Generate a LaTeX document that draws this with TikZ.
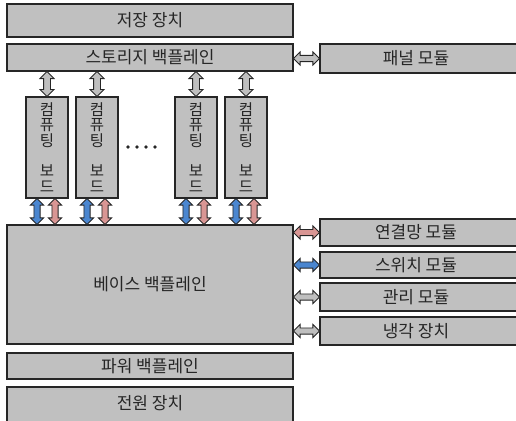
\documentclass[tikz,border=0pt]{standalone}
\usepackage{fontspec}
\setmainfont{Noto Sans CJK KR}
\usetikzlibrary{shapes.arrows}
\definecolor{boxgray}{HTML}{C0C0C0}
\definecolor{edgec}{HTML}{262626}
\definecolor{pinkc}{HTML}{D99694}
\definecolor{bluec}{HTML}{4A86D0}
\definecolor{arrgray}{HTML}{BFBFBF}
\begin{document}
\begin{tikzpicture}[x=1pt,y=-1pt,
  box/.style={draw=edgec, line width=1.1pt, fill=boxgray, inner sep=0pt, outer sep=0pt,
    anchor=north west, text=edgec, font=\fontsize{17}{18}\selectfont},
  board/.style={box, minimum width=42pt, minimum height=101pt, align=center,
    font=\fontsize{15.5}{15.5}\selectfont},
  darrow/.style={double arrow, draw=edgec, line width=0.9pt, inner xsep=0pt, inner ysep=2.6pt,
    outer sep=0pt, minimum width=12.5pt, double arrow head extend=3.6pt,
    double arrow head indent=0pt},
  garrow/.style={darrow, fill=arrgray, inner ysep=3pt, minimum width=14pt, minimum height=25pt},
  barrow/.style={darrow, fill=bluec, minimum height=26pt},
  parrow/.style={darrow, fill=pinkc, minimum height=26pt},
  harrow/.style={darrow, minimum height=26pt},
]
\useasboundingbox (0,0) rectangle (516,420);

% left column
\node[box, minimum width=286pt, minimum height=33pt] (store) at (7,4) {저장 장치};
\node[box, minimum width=286pt, minimum height=27pt] (sb) at (7,44) {스토리지 백플레인};
\node[box, minimum width=286pt, minimum height=119pt] (base) at (7,225) {베이스 백플레인};
\node[box, minimum width=286pt, minimum height=26pt] (pb) at (7,353) {파워 백플레인};
\node[box, minimum width=286pt, minimum height=36pt] (psu) at (7,387) {};
\node[text=edgec, font=\fontsize{17}{18}\selectfont] (psut) at (150,403.5) {전원 장치};

% boards
\node[board] (b1) at (26,97) {컴\\퓨\\팅\\[15pt]보\\드};
\node[board] (b2) at (76,97) {컴\\퓨\\팅\\[15pt]보\\드};
\node[board] (b3) at (175,97) {컴\\퓨\\팅\\[15pt]보\\드};
\node[board] (b4) at (225,97) {컴\\퓨\\팅\\[15pt]보\\드};

% dots
\foreach \x in {128,137,146,155} \fill[edgec] (\x,147) circle (1.9);

% right modules
\node[box, minimum width=200pt, minimum height=29pt] (panel) at (320,44) {\hspace*{-8pt}패널 모듈};
\node[box, minimum width=200pt, minimum height=27pt] (net) at (320,219) {\hspace*{-8pt}연결망 모듈};
\node[box, minimum width=200pt, minimum height=26pt] (sw) at (320,252) {\hspace*{-8pt}스위치 모듈};
\node[box, minimum width=200pt, minimum height=28pt] (mg) at (320,283) {\hspace*{-8pt}관리 모듈};
\node[box, minimum width=200pt, minimum height=28pt] (cool) at (320,317) {\hspace*{-8pt}냉각 장치};

% storage backplane <-> boards
\foreach \b in {b1,b2,b3,b4}
  \path (sb.south -| \b.north) -- (\b.north) node[midway, garrow, rotate=90] {};

% boards <-> base backplane
\foreach \b in {b1,b2,b3,b4} {
  \path ([xshift=-10pt]\b.south) -- ([xshift=-10pt]\b.south |- base.north)
    node[midway, barrow, rotate=90] {};
  \path ([xshift=8pt]\b.south) -- ([xshift=8pt]\b.south |- base.north)
    node[midway, parrow, rotate=90] {};
}

% horizontal arrows
\path (sb.east |- panel.west) -- (panel.west) node[midway, harrow, fill=arrgray] {};
\path (base.east |- net.west) -- (net.west) node[midway, harrow, fill=pinkc] {};
\path (base.east |- sw.west) -- (sw.west) node[midway, harrow, fill=bluec] {};
\path (base.east |- mg.west) -- (mg.west) node[midway, harrow, fill=arrgray] {};
\path (base.east |- cool.west) -- (cool.west) node[midway, harrow, fill=arrgray] {};
\end{tikzpicture}
\end{document}
